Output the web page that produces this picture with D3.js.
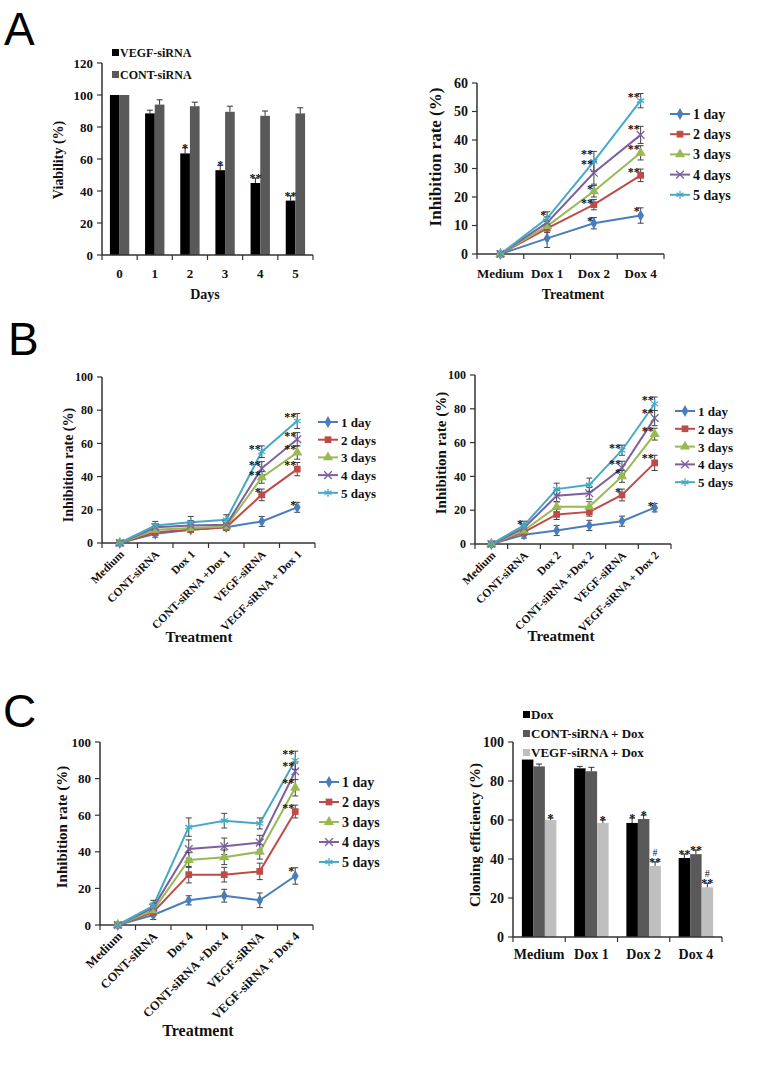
<!DOCTYPE html>
<html>
<head>
<meta charset="utf-8">
<script src="https://cdn.jsdelivr.net/npm/d3@7"></script>
<style>
  body { margin: 0; background: #fff; }
  svg text { font-family: "Liberation Serif", "Times New Roman", serif; font-weight: bold; fill: #111; }
  svg text.panel { font-family: "Liberation Sans", Arial, sans-serif; font-weight: normal; fill: #000; }
</style>
</head>
<body>
<svg id="fig" width="771" height="1088"></svg>
<script>
// ---------- data ----------
const seriesNames = ["1 day", "2 days", "3 days", "4 days", "5 days"];
const seriesColors = ["#4A7EBB", "#BE4B48", "#98B954", "#7D60A0", "#46AAC5"];

// A left: viability
const days = ["0", "1", "2", "3", "4", "5"];
const viabVEGF = [100, 88.5, 63.5, 53, 45, 34];
const viabVEGFErr = [0, 2, 3.5, 3, 3, 3];
const viabCONT = [100, 94, 93, 89.5, 87, 88.5];
const viabCONTErr = [0, 3, 2.5, 3.5, 3, 3.5];
const viabSig = ["", "", "*", "*", "**", "**"];

// A right: inhibition by Dox
const treatA = ["Medium", "Dox 1", "Dox 2", "Dox 4"];
const inhibA = [
  [0, 5.5, 10.8, 13.5],
  [0, 9, 17.3, 27.6],
  [0, 9.8, 22, 35.5],
  [0, 11, 28.5, 41.8],
  [0, 12.5, 32.5, 53.8]
];
const inhibAErr = [
  [0, 3.2, 2, 2.7],
  [0, 1.5, 1.8, 2.2],
  [0, 1.5, 2, 2.5],
  [0, 2, 4, 3],
  [0, 2.3, 3.5, 2.5]
];
const inhibASig = [
  ["", "", "*", "*"],
  ["", "", "**", "**"],
  ["", "", "*", "**"],
  ["", "", "**", "**"],
  ["", "*", "**", "**"]
];

// B left: Dox 1
const treatB1 = ["Medium", "CONT-siRNA", "Dox 1", "CONT-siRNA +Dox 1", "VEGF-siRNA", "VEGF-siRNA + Dox 1"];
const inhibB1 = [
  [0, 5.5, 8, 9.5, 13, 21.5],
  [0, 6.5, 8, 9.5, 29, 44.5],
  [0, 8, 9, 10, 39.5, 54.5],
  [0, 9.5, 10.5, 11, 45, 62.5],
  [0, 10.5, 12.5, 14, 55, 73.5]
];
const inhibB1Err = [
  [0, 2, 1.5, 2, 3, 3],
  [0, 2, 1.5, 1.5, 3.5, 4],
  [0, 2, 2, 2, 3.5, 4],
  [0, 2, 3, 2.5, 4, 4],
  [0, 2.5, 3.5, 3, 3.5, 4.5]
];
const inhibB1Sig = [
  ["", "", "", "", "", "*"],
  ["", "", "", "", "*", "**"],
  ["", "", "", "", "**", "**"],
  ["", "", "", "", "**", "**"],
  ["", "", "", "", "**", "**"]
];

// B right: Dox 2
const treatB2 = ["Medium", "CONT-siRNA", "Dox 2", "CONT-siRNA +Dox 2", "VEGF-siRNA", "VEGF-siRNA + Dox 2"];
const inhibB2 = [
  [0, 5.5, 8, 11, 13.5, 21.5],
  [0, 7, 17.5, 19, 29, 48],
  [0, 8, 22, 22, 40, 65],
  [0, 9.5, 28.5, 30, 45, 74.5],
  [0, 11, 32.5, 35, 55.5, 83]
];
const inhibB2Err = [
  [0, 2, 3, 3, 3, 2.5],
  [0, 2, 3, 2.5, 3.5, 4.5],
  [0, 2, 3, 3, 3.5, 3.5],
  [0, 2, 3.5, 3.5, 4, 4.5],
  [0, 2.5, 3.5, 4, 3, 4]
];
const inhibB2Sig = [
  ["", "", "", "", "", "*"],
  ["", "", "", "", "*", "**"],
  ["", "", "", "", "*", "**"],
  ["", "", "", "", "**", "**"],
  ["", "*", "", "", "**", "**"]
];

// C left: Dox 4
const treatC = ["Medium", "CONT-siRNA", "Dox 4", "CONT-siRNA +Dox 4", "VEGF-siRNA", "VEGF-siRNA + Dox 4"];
const inhibC = [
  [0, 5.5, 13.5, 16, 13.5, 26.8],
  [0, 7, 27.5, 27.5, 29.3, 62],
  [0, 8, 35.5, 37, 40, 75],
  [0, 9.5, 41.5, 43, 45, 84],
  [0, 10.5, 53.5, 57, 55.5, 90]
];
const inhibCErr = [
  [0, 2.5, 2.5, 3.5, 4, 4.5],
  [0, 2, 4.5, 4, 4.5, 3.5],
  [0, 2, 4, 4, 4, 4.5],
  [0, 2.5, 5, 4.5, 4, 4.5],
  [0, 3, 5, 4, 3, 5]
];
const inhibCSig = [
  ["", "", "", "", "", "*"],
  ["", "", "", "", "", "**"],
  ["", "", "", "", "", "**"],
  ["", "", "", "", "", "**"],
  ["", "", "", "", "", "**"]
];

// C right: cloning efficiency
const cloneCats = ["Medium", "Dox 1", "Dox 2", "Dox 4"];
const cloneNames = ["Dox", "CONT-siRNA + Dox", "VEGF-siRNA + Dox"];
const cloneDox = [91, 86.5, 58.5, 40.5];
const cloneDoxErr = [0, 1, 2.5, 2];
const cloneCONT = [87.5, 85, 60.5, 42.5];
const cloneCONTErr = [1.2, 2, 2, 2];
const cloneVEGF = [60, 58.5, 36.5, 25.5];
const cloneVEGFErr = [1, 1.5, 2, 2];
const cloneSig = [
  ["", "", "*", "**"],
  ["", "", "*", "**"],
  ["*", "*", "#\n**", "#\n**"]
];

// ---------- drawing ----------
const svg = d3.select("#fig");
const axisColor = "#333";

function panelLetter(txt, x, y) {
  svg.append("text").attr("class", "panel")
    .attr("x", x).attr("y", y)
    .style("font-size", "46px")
    .text(txt);
}

// x is a band scale with no padding: its band starts are the category boundaries
function drawAxes(g, o, x, y) {
  g.append("line").attr("x1", o.x0).attr("x2", o.x0).attr("y1", o.y1).attr("y2", o.y0)
    .attr("stroke", axisColor).attr("stroke-width", 1.5);
  g.selectAll(".yt").data(o.yTicks).enter().append("line")
    .attr("x1", o.x0 - 5).attr("x2", o.x0)
    .attr("y1", d => y(d)).attr("y2", d => y(d))
    .attr("stroke", axisColor).attr("stroke-width", 1.2);
  g.selectAll(".yl").data(o.yTicks).enter().append("text")
    .attr("x", o.x0 - 9).attr("y", d => y(d) + o.tickSize * 0.35)
    .attr("text-anchor", "end")
    .style("font-size", o.tickSize + "px")
    .text(d => d);

  g.append("line").attr("x1", o.x0).attr("x2", o.x1).attr("y1", o.y0).attr("y2", o.y0)
    .attr("stroke", axisColor).attr("stroke-width", 1.5);
  const bounds = x.domain().map(d => x(d)).concat([o.x1]);
  g.selectAll(".xt").data(bounds).enter().append("line")
    .attr("x1", d => d).attr("x2", d => d)
    .attr("y1", o.y0).attr("y2", o.y0 + 5)
    .attr("stroke", axisColor).attr("stroke-width", 1.2);

  g.append("text")
    .attr("transform", "translate(" + o.yTitleX + "," + o.yTitleY + ") rotate(-90)")
    .attr("text-anchor", "middle")
    .style("font-size", o.yTitleSize + "px")
    .text(o.yTitle);
  if (o.xTitle) {
    g.append("text")
      .attr("x", o.xTitleX).attr("y", o.xTitleY)
      .attr("text-anchor", "middle")
      .style("font-size", o.xTitleSize + "px")
      .text(o.xTitle);
  }

  const cx = d => x(d) + x.bandwidth() / 2;
  if (o.rotate) {
    g.selectAll(".xl").data(x.domain()).enter().append("text")
      .attr("transform", d => "translate(" + (cx(d) + 5) + "," + (o.y0 + 12) + ") rotate(-45)")
      .attr("text-anchor", "end")
      .style("font-size", o.labelSize + "px")
      .text(d => d);
  } else {
    g.selectAll(".xl").data(x.domain()).enter().append("text")
      .attr("x", cx).attr("y", o.labelY)
      .attr("text-anchor", "middle")
      .style("font-size", o.labelSize + "px")
      .text(d => d);
  }
}

const symbolTypes = [d3.symbolDiamond, d3.symbolSquare, d3.symbolTriangle, d3.symbolX, d3.symbolAsterisk];
const symbolSizes = [40, 45, 45, 40, 45];
const symbolFilled = [true, true, true, false, false];

function marker(sel, i) {
  sel.attr("d", d3.symbol().type(symbolTypes[i]).size(symbolSizes[i]))
    .attr("fill", symbolFilled[i] ? seriesColors[i] : "none")
    .attr("stroke", seriesColors[i])
    .attr("stroke-width", symbolFilled[i] ? 0 : 1.3);
}

function lineChart(o, cats, vals, errs, sigs) {
  const g = svg.append("g");
  const x = d3.scaleBand().domain(cats).range([o.x0, o.x1]).padding(0);
  const y = d3.scaleLinear().domain([0, o.yMax]).range([o.y0, o.y1]);
  const cx = d => x(d) + x.bandwidth() / 2;

  drawAxes(g, o, x, y);

  const line = d3.line().x((d, j) => cx(cats[j])).y(d => y(d));
  vals.forEach((s, i) => {
    g.append("path").datum(s)
      .attr("d", line)
      .attr("fill", "none")
      .attr("stroke", seriesColors[i])
      .attr("stroke-width", 2);
  });
  // error bars
  vals.forEach((s, i) => {
    s.forEach((v, j) => {
      const e = errs[i][j];
      if (!e) return;
      const px = cx(cats[j]);
      g.append("line").attr("x1", px).attr("x2", px).attr("y1", y(v - e)).attr("y2", y(v + e))
        .attr("stroke", "#444").attr("stroke-width", 1);
      [v - e, v + e].forEach(t => {
        g.append("line").attr("x1", px - 3).attr("x2", px + 3).attr("y1", y(t)).attr("y2", y(t))
          .attr("stroke", "#444").attr("stroke-width", 1);
      });
    });
  });
  vals.forEach((s, i) => {
    g.selectAll(".m" + i).data(s).enter().append("path")
      .attr("transform", (d, j) => "translate(" + cx(cats[j]) + "," + y(d) + ")")
      .call(marker, i);
  });
  // significance marks
  vals.forEach((s, i) => {
    s.forEach((v, j) => {
      const t = sigs[i][j];
      if (!t) return;
      g.append("text")
        .attr("x", cx(cats[j]) - 1).attr("y", y(v + errs[i][j]) + 7)
        .attr("text-anchor", "end")
        .style("font-size", "12px")
        .text(t);
    });
  });
  // legend
  seriesNames.forEach((n, i) => {
    const ly = o.legY + i * o.legStep;
    g.append("line").attr("x1", o.legX).attr("x2", o.legX + 20).attr("y1", ly).attr("y2", ly)
      .attr("stroke", seriesColors[i]).attr("stroke-width", 2);
    g.append("path").attr("transform", "translate(" + (o.legX + 10) + "," + ly + ")").call(marker, i);
    g.append("text").attr("x", o.legX + 23).attr("y", ly + 5)
      .style("font-size", o.legSize + "px").text(n);
  });
}

function barChart(o, cats, groups, errs, colors, names, sigs) {
  const g = svg.append("g");
  const xb = d3.scaleBand().domain(cats).range([o.x0, o.x1]).padding(0);
  const x = d3.scaleBand().domain(cats).range([o.x0, o.x1])
    .paddingInner(o.pad).paddingOuter(o.pad / 2);
  const xs = d3.scaleBand().domain(d3.range(groups.length)).range([0, x.bandwidth()]);
  const y = d3.scaleLinear().domain([0, o.yMax]).range([o.y0, o.y1]);

  groups.forEach((s, i) => {
    g.selectAll(".b" + i).data(s).enter().append("rect")
      .attr("x", (d, j) => x(cats[j]) + xs(i))
      .attr("width", xs.bandwidth())
      .attr("y", d => y(d))
      .attr("height", d => o.y0 - y(d))
      .attr("fill", colors[i]);
  });
  // upper error bars
  groups.forEach((s, i) => {
    s.forEach((v, j) => {
      const e = errs[i][j];
      if (!e) return;
      const px = x(cats[j]) + xs(i) + xs.bandwidth() / 2;
      g.append("line").attr("x1", px).attr("x2", px).attr("y1", y(v)).attr("y2", y(v + e))
        .attr("stroke", "#333").attr("stroke-width", 1);
      g.append("line").attr("x1", px - 3).attr("x2", px + 3).attr("y1", y(v + e)).attr("y2", y(v + e))
        .attr("stroke", "#333").attr("stroke-width", 1);
    });
  });
  groups.forEach((s, i) => {
    s.forEach((v, j) => {
      const t = sigs[i][j];
      if (!t) return;
      const px = x(cats[j]) + xs(i) + xs.bandwidth() / 2;
      t.split("\n").reverse().forEach((l, k) => {
        g.append("text")
          .attr("x", px).attr("y", y(v + errs[i][j]) + 4 - k * 10)
          .attr("text-anchor", "middle")
          .style("font-size", l === "#" ? "10px" : "12px")
          .style("font-weight", l === "#" ? "normal" : "bold")
          .text(l);
      });
    });
  });

  drawAxes(g, o, xb, y);

  names.forEach((n, i) => {
    const ly = o.legY + i * o.legStep;
    g.append("rect").attr("x", o.legX).attr("y", ly - 4).attr("width", 7).attr("height", 7)
      .attr("fill", colors[i]);
    g.append("text").attr("x", o.legX + 8).attr("y", ly + 4)
      .style("font-size", o.legSize + "px").text(n);
  });
}

panelLetter("A", 4, 45);
panelLetter("B", 8, 355);
panelLetter("C", 3, 727);

// A left
barChart({
  x0: 102, x1: 313, y0: 255, y1: 63, yMax: 120, yTicks: d3.range(0, 121, 20),
  pad: 0.45, tickSize: 13, labelSize: 13, labelY: 278,
  yTitle: "Viability (%)", yTitleX: 63, yTitleY: 160, yTitleSize: 14,
  xTitle: "Days", xTitleX: 205, xTitleY: 299, xTitleSize: 14,
  legX: 112, legY: 53, legStep: 22, legSize: 12
}, days, [viabVEGF, viabCONT], [viabVEGFErr, viabCONTErr],
  ["#000000", "#595959"], ["VEGF-siRNA", "CONT-siRNA"], [viabSig, ["", "", "", "", "", ""]]);

// A right
lineChart({
  x0: 477, x1: 664, y0: 254, y1: 83, yMax: 60, yTicks: d3.range(0, 61, 10),
  tickSize: 14, labelSize: 13, labelY: 278,
  yTitle: "Inhibition rate (%)", yTitleX: 441, yTitleY: 157, yTitleSize: 17,
  xTitle: "Treatment", xTitleX: 573, xTitleY: 299, xTitleSize: 14,
  legX: 670, legY: 114, legStep: 20.2, legSize: 14
}, treatA, inhibA, inhibAErr, inhibASig);

// B left
lineChart({
  x0: 102, x1: 315, y0: 543, y1: 377, yMax: 100, yTicks: d3.range(0, 101, 20),
  tickSize: 12, labelSize: 11.5, rotate: true,
  yTitle: "Inhibition rate (%)", yTitleX: 73, yTitleY: 465, yTitleSize: 14,
  xTitle: "Treatment", xTitleX: 199, xTitleY: 642, xTitleSize: 15,
  legX: 318, legY: 422, legStep: 17.7, legSize: 13
}, treatB1, inhibB1, inhibB1Err, inhibB1Sig);

// B right
lineChart({
  x0: 475, x1: 671, y0: 544, y1: 375, yMax: 100, yTicks: d3.range(0, 101, 20),
  tickSize: 12, labelSize: 11.5, rotate: true,
  yTitle: "Inhibition rate (%)", yTitleX: 446, yTitleY: 453, yTitleSize: 15,
  xTitle: "Treatment", xTitleX: 561, xTitleY: 641, xTitleSize: 15,
  legX: 675, legY: 411, legStep: 17.8, legSize: 13
}, treatB2, inhibB2, inhibB2Err, inhibB2Sig);

// C left
lineChart({
  x0: 100, x1: 313, y0: 925, y1: 742, yMax: 100, yTicks: d3.range(0, 101, 20),
  tickSize: 13, labelSize: 12.5, rotate: true,
  yTitle: "Inhibition rate (%)", yTitleX: 67, yTitleY: 827, yTitleSize: 15,
  xTitle: "Treatment", xTitleX: 198, xTitleY: 1036, xTitleSize: 16,
  legX: 319, legY: 782, legStep: 20, legSize: 14
}, treatC, inhibC, inhibCErr, inhibCSig);

// C right
barChart({
  x0: 513, x1: 722, y0: 937, y1: 742, yMax: 100, yTicks: d3.range(0, 101, 20),
  pad: 0.34, tickSize: 14, labelSize: 14, labelY: 959,
  yTitle: "Cloning efficiency (%)", yTitleX: 480, yTitleY: 835, yTitleSize: 15,
  xTitle: "",
  legX: 523, legY: 715, legStep: 19, legSize: 13
}, cloneCats, [cloneDox, cloneCONT, cloneVEGF], [cloneDoxErr, cloneCONTErr, cloneVEGFErr],
  ["#000000", "#595959", "#BFBFBF"], cloneNames, cloneSig);
</script>
</body>
</html>
